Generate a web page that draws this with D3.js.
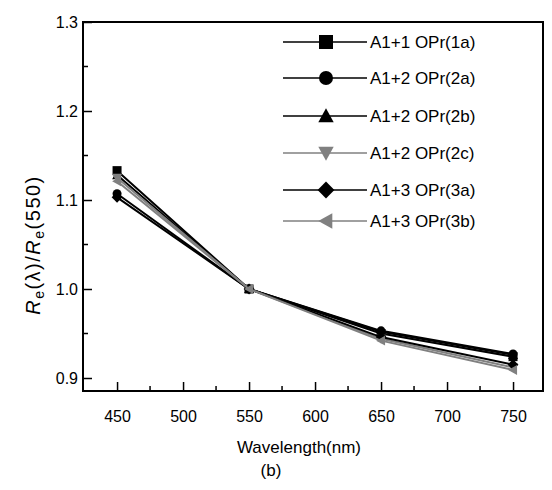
<!DOCTYPE html>
<html>
<head>
<meta charset="utf-8">
<script src="https://cdn.jsdelivr.net/npm/d3@7"></script>
<style>
  body { margin: 0; background: #fff; }
  svg text { font-family: "Liberation Sans", Arial, sans-serif; fill: #000; }
</style>
</head>
<body>
<div id="chart"></div>
<script>
// wavelengths (nm)
const wavelengths = [450, 550, 650, 750];

// series names, shapes, colours
const seriesNames = ['A1+1 OPr(1a)', 'A1+2 OPr(2a)', 'A1+2 OPr(2b)', 'A1+2 OPr(2c)', 'A1+3 OPr(3a)', 'A1+3 OPr(3b)'];
const seriesShapes = ['square', 'circle', 'triangle', 'triangleDown', 'diamond', 'triangleLeft'];
const seriesColors = ['#000', '#000', '#000', '#808080', '#000', '#808080'];

// Re(λ)/Re(550) per series
const s1a = [1.133, 1.0, 0.950, 0.924];
const s2a = [1.107, 1.0, 0.953, 0.927];
const s2b = [1.128, 1.0, 0.952, 0.926];
const s2c = [1.125, 1.0, 0.944, 0.912];
const s3a = [1.103, 1.0, 0.946, 0.915];
const s3b = [1.121, 1.0, 0.942, 0.909];
const seriesValues = [s1a, s2a, s2b, s2c, s3a, s3b];

const xTicks = [450, 500, 550, 600, 650, 700, 750];
const yTicks = [0.9, 1.0, 1.1, 1.2, 1.3];

const W = 552, H = 490;
const margin = { left: 83, top: 22, right: 9, bottom: 99 };
const iw = W - margin.left - margin.right;
const ih = H - margin.top - margin.bottom;

const svg = d3.select('#chart').append('svg')
  .attr('width', W)
  .attr('height', H);

const x = d3.scaleLinear().domain([424.2, 772.7]).range([0, iw]);
const y = d3.scaleLinear().domain([0.8854, 1.3]).range([ih, 0]);

const g = svg.append('g').attr('transform', `translate(${margin.left},${margin.top})`);

// marker paths centred at 0,0
function markerPath(shape, s) {
  const h = s / 2;
  switch (shape) {
    case 'square': return `M${-h},${-h}H${h}V${h}H${-h}Z`;
    case 'circle': return d3.symbol(d3.symbolCircle, Math.PI * h * h)();
    case 'triangle': return `M0,${-h * 1.1}L${h * 1.1},${h * 0.9}L${-h * 1.1},${h * 0.9}Z`;
    case 'triangleDown': return `M0,${h * 1.1}L${h * 1.1},${-h * 0.9}L${-h * 1.1},${-h * 0.9}Z`;
    case 'diamond': return `M0,${-h * 1.2}L${h * 1.2},0L0,${h * 1.2}L${-h * 1.2},0Z`;
    case 'triangleLeft': return `M${-h * 1.1},0L${h * 0.9},${-h * 1.1}L${h * 0.9},${h * 1.1}Z`;
  }
}

// lines and markers
const line = d3.line().x((d, i) => x(wavelengths[i])).y(d => y(d));
seriesValues.forEach((vals, k) => {
  g.append('path')
    .datum(vals)
    .attr('d', line)
    .attr('fill', 'none')
    .attr('stroke', seriesColors[k])
    .attr('stroke-width', 2);
  g.append('g')
    .selectAll('path')
    .data(vals)
    .join('path')
    .attr('transform', (d, i) => `translate(${x(wavelengths[i])},${y(d)})`)
    .attr('d', markerPath(seriesShapes[k], 9))
    .attr('fill', seriesColors[k]);
});

// axes: inward ticks
const xAxis = d3.axisBottom(x).tickValues(xTicks).tickSizeInner(-9).tickSizeOuter(0).tickPadding(20);
const yAxis = d3.axisLeft(y).tickValues(yTicks).tickFormat(d3.format('.1f')).tickSizeInner(-9).tickSizeOuter(0).tickPadding(5);

const gx = g.append('g').attr('transform', `translate(0,${ih})`).call(xAxis);
const gy = g.append('g').call(yAxis);
[gx, gy].forEach(a => {
  a.select('.domain').remove();
  a.selectAll('line').attr('stroke', '#000').attr('stroke-width', 1.5);
  a.selectAll('text').attr('font-size', 16).attr('font-family', '"Liberation Sans", Arial, sans-serif');
});

// minor ticks
const xMinor = d3.range(475, 775, 50);
g.append('g').selectAll('line').data(xMinor).join('line')
  .attr('x1', d => x(d)).attr('x2', d => x(d))
  .attr('y1', ih).attr('y2', ih - 5)
  .attr('stroke', '#000').attr('stroke-width', 1.5);
const yMinor = [0.95, 1.05, 1.15, 1.25];
g.append('g').selectAll('line').data(yMinor).join('line')
  .attr('x1', 0).attr('x2', 5)
  .attr('y1', d => y(d)).attr('y2', d => y(d))
  .attr('stroke', '#000').attr('stroke-width', 1.5);

// frame
g.append('rect')
  .attr('width', iw).attr('height', ih)
  .attr('fill', 'none').attr('stroke', '#000').attr('stroke-width', 2);

// legend
const legendY = [42, 78, 116, 153, 190, 221];
const leg = svg.append('g');
seriesNames.forEach((name, k) => {
  const row = leg.append('g').attr('transform', `translate(0,${legendY[k]})`);
  row.append('line')
    .attr('x1', 283).attr('x2', 367)
    .attr('stroke', seriesColors[k]).attr('stroke-width', 1.6);
  row.append('path')
    .attr('transform', 'translate(326,0)')
    .attr('d', markerPath(seriesShapes[k], 14))
    .attr('fill', seriesColors[k]);
  row.append('text')
    .attr('x', 370).attr('y', 6)
    .attr('font-size', 17)
    .text(name);
});

// axis titles
svg.append('text')
  .attr('x', 299).attr('y', 453)
  .attr('text-anchor', 'middle')
  .attr('font-size', 17)
  .text('Wavelength(nm)');
svg.append('text')
  .attr('x', 271).attr('y', 476)
  .attr('text-anchor', 'middle')
  .attr('font-size', 17)
  .text('(b)');

const yl = svg.append('text')
  .attr('transform', 'translate(40,245) rotate(-90)')
  .attr('text-anchor', 'middle')
  .attr('font-size', 20)
  .attr('letter-spacing', 1.5);
yl.append('tspan').attr('font-style', 'italic').text('R');
yl.append('tspan').attr('font-size', 14).attr('dy', 4).text('e');
yl.append('tspan').attr('dy', -4).text('(λ)/');
yl.append('tspan').attr('font-style', 'italic').text('R');
yl.append('tspan').attr('font-size', 14).attr('dy', 4).text('e');
yl.append('tspan').attr('dy', -4).text('(550)');
</script>
</body>
</html>
